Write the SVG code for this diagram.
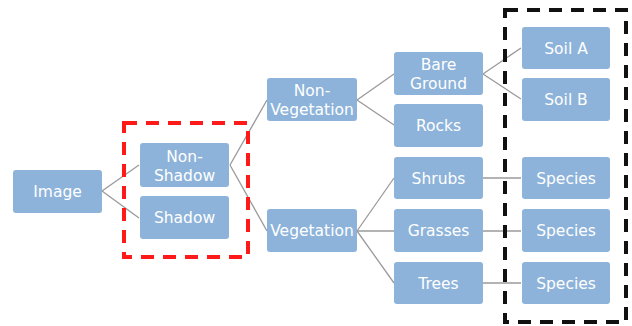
<svg xmlns="http://www.w3.org/2000/svg" width="632" height="326" viewBox="0 0 632 326">
<style>
.n rect{fill:#8db3da;stroke:none}
.n text{fill:#fff;font-family:"DejaVu Sans",sans-serif;font-size:15.5px;text-anchor:middle}
.c line{stroke:#9a9a9a;stroke-width:1.3}
.red{fill:none;stroke:#ff1a1a;stroke-width:4;stroke-dasharray:13 9}
.blk{fill:none;stroke:#111;stroke-width:4;stroke-dasharray:13 9}
</style>
<rect width="632" height="326" fill="#fff"/>
<g class="c">
<line x1="102" y1="191" x2="139" y2="165"/>
<line x1="102" y1="191" x2="139" y2="218"/>
<line x1="230" y1="165" x2="267" y2="100"/>
<line x1="230" y1="165" x2="267" y2="231"/>
<line x1="357" y1="100" x2="394" y2="74"/>
<line x1="357" y1="100" x2="394" y2="125"/>
<line x1="483" y1="74" x2="521" y2="48"/>
<line x1="483" y1="74" x2="521" y2="99"/>
<line x1="357" y1="231" x2="394" y2="178"/>
<line x1="357" y1="231" x2="394" y2="231"/>
<line x1="357" y1="231" x2="394" y2="283"/>
<line x1="483" y1="178" x2="521" y2="178"/>
<line x1="483" y1="231" x2="521" y2="231"/>
<line x1="483" y1="283" x2="521" y2="283"/>
</g>
<g id="image" class="n"><rect x="13" y="170" width="89" height="43" rx="3"/><text x="57.5" y="197">Image</text></g>
<g id="nonshadow" class="n"><rect x="140" y="143" width="89" height="44" rx="3"/><text x="184.5" y="162">Non-</text><text x="184.5" y="181">Shadow</text></g>
<g id="shadow" class="n"><rect x="140" y="196" width="89" height="43" rx="3"/><text x="184.5" y="223">Shadow</text></g>
<g id="nonveg" class="n"><rect x="267" y="78" width="90" height="43" rx="3"/><text x="312" y="96">Non-</text><text x="312" y="115">Vegetation</text></g>
<g id="veg" class="n"><rect x="267" y="209" width="90" height="43" rx="3"/><text x="312" y="236">Vegetation</text></g>
<g id="bare" class="n"><rect x="394" y="52" width="89" height="43" rx="3"/><text x="438.5" y="70">Bare</text><text x="438.5" y="89">Ground</text></g>
<g id="rocks" class="n"><rect x="394" y="104" width="89" height="43" rx="3"/><text x="438.5" y="131">Rocks</text></g>
<g id="shrubs" class="n"><rect x="394" y="157" width="89" height="42" rx="3"/><text x="438.5" y="184">Shrubs</text></g>
<g id="grasses" class="n"><rect x="394" y="209" width="89" height="43" rx="3"/><text x="438.5" y="236">Grasses</text></g>
<g id="trees" class="n"><rect x="394" y="262" width="89" height="42" rx="3"/><text x="438.5" y="289">Trees</text></g>
<g id="soila" class="n"><rect x="522" y="27" width="88" height="42" rx="3"/><text x="566" y="54">Soil A</text></g>
<g id="soilb" class="n"><rect x="522" y="78" width="88" height="43" rx="3"/><text x="566" y="105">Soil B</text></g>
<g id="species1" class="n"><rect x="522" y="157" width="88" height="42" rx="3"/><text x="566" y="184">Species</text></g>
<g id="species2" class="n"><rect x="522" y="209" width="88" height="43" rx="3"/><text x="566" y="236">Species</text></g>
<g id="species3" class="n"><rect x="522" y="262" width="88" height="42" rx="3"/><text x="566" y="289">Species</text></g>
<rect class="red" x="124" y="123" width="124" height="134"/>
<rect class="blk" x="505" y="10" width="121" height="312"/>
</svg>
